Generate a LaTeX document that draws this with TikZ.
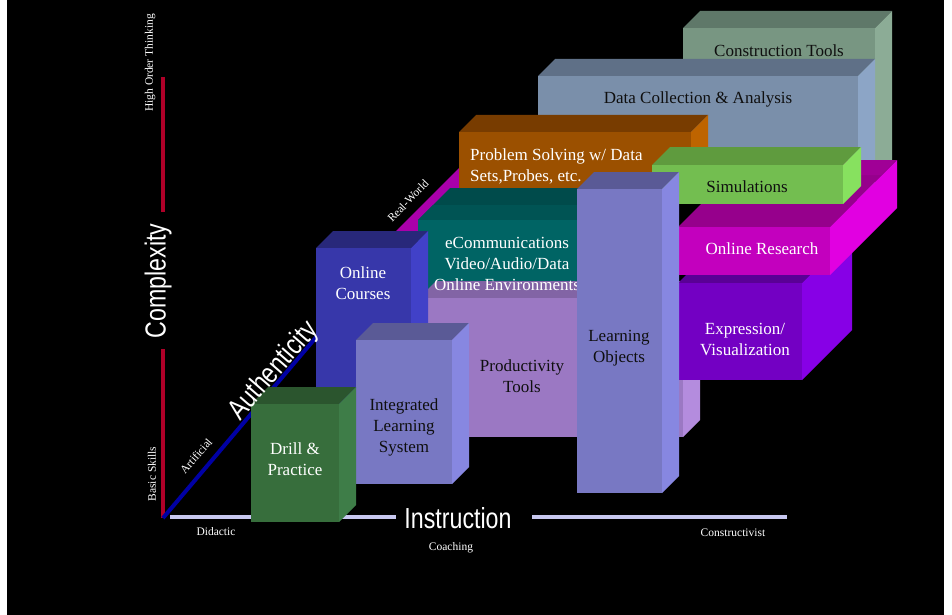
\documentclass[tikz,border=0pt]{standalone}
\usepackage{fontspec}
\setmainfont{Liberation Serif}
\newfontfamily\narrowsans[FakeStretch=0.8]{Liberation Sans}
\definecolor{ctF}{RGB}{120,150,130}\definecolor{ctT}{RGB}{95,120,105}\definecolor{ctS}{RGB}{140,172,150}
\definecolor{dcF}{RGB}{122,143,170}\definecolor{dcT}{RGB}{95,112,135}\definecolor{dcS}{RGB}{140,165,198}
\definecolor{psF}{RGB}{155,80,0}\definecolor{psT}{RGB}{120,60,0}\definecolor{psS}{RGB}{190,100,0}
\definecolor{tlF}{RGB}{0,100,100}\definecolor{tlT}{RGB}{0,75,75}\definecolor{tlU}{RGB}{0,84,84}
\definecolor{ptF}{RGB}{155,120,195}\definecolor{ptT}{RGB}{130,100,165}\definecolor{ptS}{RGB}{180,140,222}
\definecolor{exF}{RGB}{115,0,195}\definecolor{exT}{RGB}{90,0,150}\definecolor{exS}{RGB}{135,0,230}
\definecolor{orF}{RGB}{195,0,190}\definecolor{orT}{RGB}{150,0,140}\definecolor{orU}{RGB}{160,0,150}\definecolor{orS}{RGB}{225,0,225}
\definecolor{smF}{RGB}{115,190,80}\definecolor{smT}{RGB}{95,155,62}\definecolor{smS}{RGB}{135,225,95}
\definecolor{ocF}{RGB}{55,55,170}\definecolor{ocT}{RGB}{40,40,122}\definecolor{ocS}{RGB}{65,65,200}
\definecolor{ilF}{RGB}{120,120,195}\definecolor{ilT}{RGB}{90,90,150}\definecolor{ilS}{RGB}{135,135,225}
\definecolor{drF}{RGB}{55,110,60}\definecolor{drT}{RGB}{43,85,46}\definecolor{drS}{RGB}{62,125,72}
\definecolor{rwM}{RGB}{170,0,170}
\definecolor{axRed}{RGB}{175,0,40}\definecolor{axBlue}{RGB}{0,0,165}\definecolor{axLav}{RGB}{200,200,240}
\definecolor{darktext}{RGB}{15,15,15}
\newcommand{\blockbox}[8]{%
  \fill[#7] (#1,#2) -- (#3,#2) -- ({#3+#5},{#2-#5}) -- ({#1+#5},{#2-#5}) -- cycle;
  \fill[#8] (#3,#2) -- ({#3+#5},{#2-#5}) -- ({#3+#5},{#4-#5}) -- (#3,#4) -- cycle;
  \fill[#6] (#1,#2) rectangle (#3,#4);
}
\tikzset{
  boxtext/.style={font=\fontsize{17}{21}\selectfont, align=center, inner sep=0pt},
  smalllabel/.style={font=\fontsize{11.5}{13}\selectfont, text=white, inner sep=0pt},
  biglabel/.style={font=\narrowsans\fontsize{29}{30}\selectfont, text=white, inner sep=0pt},
  axisline/.style={line width=4pt}
}
\begin{document}
\begin{tikzpicture}[x=1pt,y=-1pt]
\useasboundingbox (0,0) rectangle (952,615);
\fill[white] (0,0) rectangle (952,615);
\fill[black] (7,0) rectangle (944,615);
% axes
\draw[axisline, axRed] (163,77) -- (163,212);
\draw[axisline, axRed] (163,349) -- (163,518);
\draw[axisline, axBlue] (163,518) -- (318,335);
\draw[axisline, axLav] (170,517) -- (396,517);
\draw[axisline, axLav] (532,517) -- (787,517);
% back boxes
\blockbox{683}{28}{875}{178}{17}{ctF}{ctT}{ctS}
\blockbox{538}{76}{858}{200}{17}{dcF}{dcT}{dcS}
% real-world band
\fill[rwM] (395,232) -- (460,167) -- (560,167) -- (560,232) -- cycle;
\blockbox{459}{132}{691}{190}{17}{psF}{psT}{psS}
% teal
\fill[tlT] (418,220) -- (610,220) -- (642,188) -- (450,188) -- cycle;
\fill[tlU] (418,220) -- (610,220) -- (625,205) -- (433,205) -- cycle;
\fill[tlF] (418,220) rectangle (610,298);
% productivity
\blockbox{419}{298}{683}{437}{17}{ptF}{ptT}{ptS}
% expression
\blockbox{678}{283}{802}{380}{50}{exF}{exT}{exS}
% online research
\blockbox{678}{227}{830}{275}{67}{orF}{orT}{orS}
\fill[orU] (744,160) -- (896,160) -- (881,175) -- (729,175) -- cycle;
% simulations
\blockbox{652}{165}{843}{204}{18}{smF}{smT}{smS}
% front boxes
\blockbox{316}{248}{411}{420}{17}{ocF}{ocT}{ocS}
\blockbox{356}{340}{452}{484}{17}{ilF}{ilT}{ilS}
\blockbox{251}{404}{339}{522}{17}{drF}{drT}{drS}
% texts that may be covered by Learning Objects
\node[boxtext, text=white] (ecomm) at (507,264) {eCommunications\\Video/Audio/Data\\Online Environments};
\node[boxtext, text=white, anchor=west, align=left] (probsolv) at (470,166) {Problem Solving w/ Data\\Sets,Probes, etc.};
\blockbox{577}{189}{662}{493}{17}{ilF}{ilT}{ilS}
% box labels
\node[boxtext, text=darktext] (construct) at (779,51) {Construction Tools};
\node[boxtext, text=darktext] (datacoll) at (698,99) {Data Collection \& Analysis};
\node[boxtext, text=darktext] (simul) at (747,187) {Simulations};
\node[boxtext, text=white] (onlres) at (762,249) {Online Research};
\node[boxtext, text=white] (express) at (745,339) {Expression/\\Visualization};
\node[boxtext, text=darktext] (prodtools) at (522,376) {Productivity\\Tools};
\node[boxtext, text=darktext] (learnobj) at (619,348) {Learning\\Objects};
\node[boxtext, text=white] (onlcourses) at (363,283) {Online\\Courses};
\node[boxtext, text=darktext] (integr) at (404,427) {Integrated\\Learning\\System};
\node[boxtext, text=white] (drill) at (295,459) {Drill \&\\Practice};
% axis labels
\node[smalllabel, rotate=90] (highorder) at (150,63) {High Order Thinking};
\node[smalllabel, rotate=90] (basic) at (152,474) {Basic Skills};
\node[biglabel, rotate=90] (complexity) at (158,281) {Complexity};
\node[smalllabel, rotate=49] (artificial) at (196,456) {Artificial};
\node[smalllabel, rotate=46] (realworld) at (408,201) {Real-World};
\node[biglabel, rotate=49] (authentic) at (274,371) {Authenticity};
\node[biglabel] (instruction) at (458,518) {Instruction};
\node[smalllabel] (didactic) at (216,532) {Didactic};
\node[smalllabel] (coaching) at (451,548) {Coaching};
\node[smalllabel] (construct2) at (733,533) {Constructivist};
\end{tikzpicture}
\end{document}
